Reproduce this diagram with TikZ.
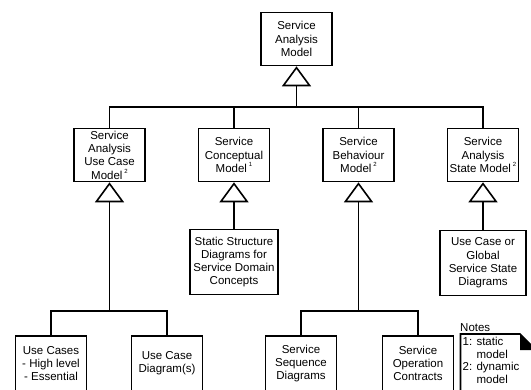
\documentclass[tikz,border=0pt]{standalone}
\usepackage{fontspec}
\setmainfont{Liberation Sans}
\usetikzlibrary{arrows.meta}
\newcommand{\supmark}[1]{\,\raisebox{0.9ex}{\fontsize{6}{6}\selectfont #1}}
\tikzset{
  model/.style={draw, line width=1.6pt, minimum width=71pt, minimum height=53pt,
    align=center, inner sep=1pt, font=\fontsize{11.5}{13.3}\selectfont},
  gen/.style={line width=1.6pt, -{Triangle[open, length=20pt, width=29pt]}},
  link/.style={line width=1.6pt},
}
\begin{document}
\begin{tikzpicture}[x=1pt,y=-1pt]
  \clip (0,0) rectangle (531,389);
  \node[model] (sam) at (296.5,39) {Service\\Analysis\\Model};
  \node[model] (ucm) at (109.5,155) {Service\\Analysis\\Use Case\\Model\supmark{2}};
  \node[model] (scm) at (234,155) {Service\\Conceptual\\Model\supmark{1}};
  \node[model] (sbm) at (358.5,155) {Service\\Behaviour\\Model\supmark{2}};
  \node[model] (ssm) at (483,155) {Service\\Analysis\\State Model\supmark{2}};
  \node[model, minimum width=88pt, minimum height=65pt] (ssd) at (234,262) {Static Structure\\Diagrams for\\Service Domain\\Concepts};
  \node[model, minimum width=86pt, minimum height=65pt] (usd) at (483,263) {Use Case or\\Global\\Service State\\Diagrams};
  \node[model, minimum height=55pt] (uc1) at (51,363.5) {Use Cases\\- High level\\- Essential};
  \node[model, minimum height=55pt] (uc2) at (167,363.5) {Use Case\\Diagram(s)};
  \node[model, minimum height=55pt] (seq) at (301,363.5) {Service\\Sequence\\Diagrams};
  \node[model, minimum height=55pt] (op) at (418,363.5) {Service\\Operation\\Contracts};
  \coordinate (hub) at (296.5,107);
  \coordinate (ucHub) at (109.5,311);
  \coordinate (sbHub) at (358.5,311);
  % top level
  \draw[link] (ucm.north) |- (hub) -| (ssm.north);
  \draw[link] (scm.north) -- (scm.north |- hub);
  \draw[link] (sbm.north) -- (sbm.north |- hub);
  \draw[gen] (hub) -- (sam.south);
  % second level
  \draw[link] (uc1.north) |- (ucHub) -| (uc2.north);
  \draw[gen] (ucHub) -- (ucm.south);
  \draw[gen] (ssd.north) -- (scm.south);
  \draw[link] (seq.north) |- (sbHub) -| (op.north);
  \draw[gen] (sbHub) -- (sbm.south);
  \draw[gen] (usd.north) -- (ssm.south);
  % notes
  \node[anchor=base west, inner sep=0pt, font=\fontsize{11.5}{13.3}\selectfont] (notes) at (460,331) {Notes};
  \draw[link] (460.5,400) -- (460.5,334) -- (520,334) -- (536,350) -- (536,400);
  \fill (520,334) -- (520,350) -- (536,350) -- cycle;
  \node[anchor=north west, align=left, inner sep=0pt, font=\fontsize{11.5}{12.6}\selectfont] (notetext) at (462.5,337) {1: static\\\phantom{1: }model\\2: dynamic\\\phantom{2: }model};
\end{tikzpicture}
\end{document}
